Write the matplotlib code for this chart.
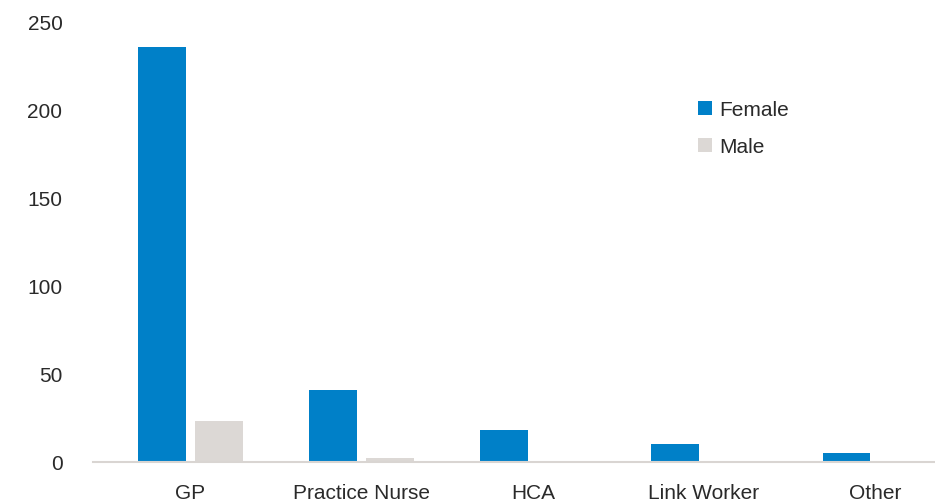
import matplotlib
matplotlib.use("Agg")
import matplotlib.pyplot as plt
import numpy as np

categories = ["GP", "Practice Nurse", "HCA", "Link Worker", "Other"]
female = [235, 41, 18, 10, 5]
male = [23, 2, 0, 0, 0]
yticks = [0, 50, 100, 150, 200, 250]

plt.rcParams['font.family'] = ['Liberation Sans', 'DejaVu Sans']

fig = plt.figure(figsize=(9.35, 5.02), dpi=100)
ax = fig.add_axes([93/935, 1-463/502, 1-93/935, (463-22)/502])

x = np.arange(len(categories))
w = 0.28
off = 0.167
ax.bar(x - off, female, w, color="#0080C8", label="Female")
ax.bar(x + off, male, w, color="#DCD8D5", label="Male")

ax.set_xlim(-0.57, 4.35)
ax.set_ylim(0, 250)
ax.set_yticks(yticks)
ax.set_xticks(x)
ax.set_xticklabels(categories)
for s in ["top", "right", "left"]:
    ax.spines[s].set_visible(False)
ax.spines["bottom"].set_color("#D9D5D2")
ax.spines["bottom"].set_linewidth(1.5)
ax.tick_params(axis="both", length=0, labelsize=15, colors="#2a2a2a")
ax.tick_params(axis="y", pad=22)
ax.tick_params(axis="x", pad=15)

leg = ax.legend(loc="upper left", bbox_to_anchor=(0.718, 0.82), frameon=False,
                handlelength=0.7, handleheight=0.7, handletextpad=0.35,
                labelspacing=0.85, fontsize=15, borderpad=0, borderaxespad=0)
for t in leg.get_texts():
    t.set_color("#2a2a2a")

fig.savefig("out.png", dpi=100)
